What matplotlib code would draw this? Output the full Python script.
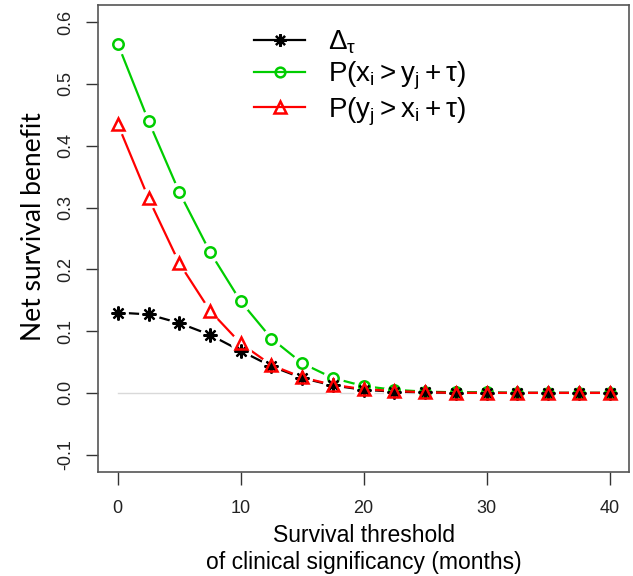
import numpy as np
import matplotlib
matplotlib.use("Agg")
import matplotlib.pyplot as plt

# valores
threshold = [0, 2.5, 5, 7.5, 10, 12.5, 15, 17.5, 20, 22.5, 25, 27.5, 30, 32.5, 35, 37.5, 40]
delta_tau = [0.130, 0.127, 0.113, 0.094, 0.068, 0.043, 0.024, 0.012, 0.005, 0.002, 0.001,
             0.0, 0.0, 0.0, 0.0, 0.0, 0.0]
p_x_gt_y = [0.565, 0.440, 0.325, 0.228, 0.148, 0.088, 0.048, 0.024, 0.011, 0.005, 0.002,
            0.001, 0.001, 0.0, 0.0, 0.0, 0.0]
p_y_gt_x = [0.435, 0.315, 0.210, 0.133, 0.080, 0.045, 0.025, 0.013, 0.006, 0.003, 0.001,
            0.0, 0.0, 0.0, 0.0, 0.0, 0.0]

labels = [r"$\mathrm{\Delta_\tau}$",
          r"$\mathrm{P(x_i > y_j + \tau)}$",
          r"$\mathrm{P(y_j > x_i + \tau)}$"]

plt.rcParams["font.family"] = ["Liberation Sans", "DejaVu Sans"]
plt.rcParams["mathtext.fontset"] = "custom"
plt.rcParams["mathtext.rm"] = "Liberation Sans"
plt.rcParams["mathtext.it"] = "Liberation Sans"
plt.rcParams["mathtext.bf"] = "Liberation Sans:bold"

fig = plt.figure(figsize=(6.33, 5.76), dpi=100)
ax = fig.add_axes([0.155, 0.1806, 0.839, 0.811])

GREEN = "#00CD00"
RED = "#FF0000"

# linea gris en cero
ax.plot([threshold[0], threshold[-1]], [0, 0], color="#d9d9d9", lw=1, zorder=1)

# lineas (tipo "b" de R: se cortan cerca de los puntos)
ax.plot(threshold, p_x_gt_y, color=GREEN, lw=1.6, zorder=2)
ax.plot(threshold, delta_tau, color="black", lw=1.6, zorder=2)
ax.plot(threshold, p_y_gt_x, color=RED, lw=1.6, zorder=2)
for serie in (p_x_gt_y, delta_tau, p_y_gt_x):
    ax.plot(threshold, serie, ls="none", marker="o", ms=14, mfc="white", mec="white", zorder=3)

# marcadores
ax.plot(threshold, p_x_gt_y, ls="none", marker="o", ms=7.5, mfc="none", mec=GREEN, mew=1.8, zorder=4)
ax.plot(threshold, delta_tau, ls="none", marker=(8, 2, 0), ms=10, mec="black", mew=1.6, zorder=5)
ax.plot(threshold, p_y_gt_x, ls="none", marker="^", ms=9, mfc="none", mec=RED, mew=1.8, zorder=6)

# leyenda
h1, = ax.plot([], [], color="black", lw=1.6, marker=(8, 2, 0), ms=9, mew=1.6)
h2, = ax.plot([], [], color=GREEN, lw=1.6, marker="o", ms=7, mfc="none", mew=1.8)
h3, = ax.plot([], [], color=RED, lw=1.6, marker="^", ms=8, mfc="none", mew=1.8)
ax.legend([h1, h2, h3], labels, loc="upper left", bbox_to_anchor=(0.257, 0.99),
          frameon=False, fontsize=20, handlelength=1.85, handletextpad=0.8,
          labelspacing=0.12, numpoints=1, borderaxespad=0.3)

ax.set_xlim(-1.6, 41.6)
ax.set_ylim(-0.128, 0.628)
ax.set_xticks([0, 10, 20, 30, 40])
ax.set_yticks([-0.1, 0.0, 0.1, 0.2, 0.3, 0.4, 0.5, 0.6])
ax.set_yticklabels(["-0.1", "0.0", "0.1", "0.2", "0.3", "0.4", "0.5", "0.6"],
                   rotation=90, va="center")
ax.tick_params(length=9, width=1, color="#333333", labelsize=13, labelcolor="#222222")
ax.tick_params(axis="x", pad=11)
ax.tick_params(axis="y", pad=8)
for s in ax.spines.values():
    s.set_color("#555555")
    s.set_linewidth(1.2)

ax.set_xlabel("Survival threshold\nof clinical significancy (months)", fontsize=16.5,
              linespacing=1.2, labelpad=5.5)
ax.set_ylabel("Net survival benefit", fontsize=19, family="Lato")
ax.yaxis.set_label_coords(-0.098, 0.525)

fig.savefig("out.png", dpi=100)
